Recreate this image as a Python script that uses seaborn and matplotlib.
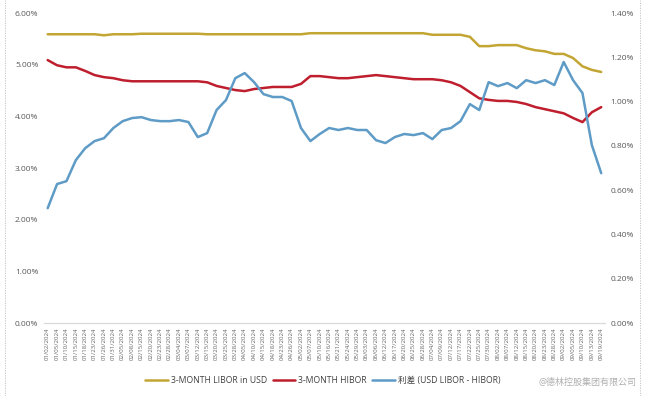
import matplotlib
matplotlib.use("Agg")
import matplotlib.pyplot as plt
import matplotlib.ticker as mticker
import seaborn as sns
import pandas as pd
import numpy as np

# ---- data ----
hk_holidays = ["2024-01-01", "2024-02-12", "2024-02-13", "2024-03-29", "2024-04-01",
               "2024-04-04", "2024-05-01", "2024-05-15", "2024-06-10", "2024-07-01",
               "2024-09-18"]
all_days = pd.date_range("2024-01-02", periods=178,
                         freq=pd.offsets.CustomBusinessDay(holidays=hk_holidays))
dates = all_days[::3]
tick_labels = [d.strftime("%m/%d/%Y") for d in dates]

libor_usd = [5.59, 5.59, 5.59, 5.59, 5.59, 5.59, 5.57, 5.59, 5.59, 5.59,
             5.60, 5.60, 5.60, 5.60, 5.60, 5.60, 5.60, 5.59, 5.59, 5.59,
             5.59, 5.59, 5.59, 5.59, 5.59, 5.59, 5.59, 5.59, 5.61, 5.61,
             5.61, 5.61, 5.61, 5.61, 5.61, 5.61, 5.61, 5.61, 5.61, 5.61,
             5.61, 5.58, 5.58, 5.58, 5.58, 5.54, 5.36, 5.36, 5.38, 5.38,
             5.38, 5.32, 5.28, 5.26, 5.21, 5.21, 5.13, 4.97, 4.90, 4.86]

hibor = [5.09, 4.99, 4.95, 4.95, 4.88, 4.80, 4.76, 4.74, 4.70, 4.68,
         4.68, 4.68, 4.68, 4.68, 4.68, 4.68, 4.68, 4.66, 4.59, 4.55,
         4.51, 4.49, 4.53, 4.55, 4.57, 4.57, 4.57, 4.63, 4.78, 4.78,
         4.76, 4.74, 4.74, 4.76, 4.78, 4.80, 4.78, 4.76, 4.74, 4.72,
         4.72, 4.72, 4.70, 4.66, 4.59, 4.47, 4.35, 4.32, 4.30, 4.30,
         4.28, 4.24, 4.18, 4.14, 4.10, 4.06, 3.97, 3.89, 4.08, 4.18]

spread = [0.519, 0.628, 0.641, 0.736, 0.790, 0.822, 0.835, 0.881, 0.912, 0.926,
          0.930, 0.917, 0.912, 0.912, 0.917, 0.908, 0.840, 0.858, 0.962, 1.007,
          1.106, 1.129, 1.088, 1.034, 1.021, 1.021, 1.003, 0.881, 0.822, 0.854,
          0.881, 0.872, 0.881, 0.872, 0.872, 0.826, 0.813, 0.840, 0.854, 0.849,
          0.858, 0.831, 0.872, 0.881, 0.912, 0.989, 0.962, 1.088, 1.070, 1.084,
          1.061, 1.097, 1.084, 1.097, 1.075, 1.179, 1.097, 1.039, 0.804, 0.677]

names = ["3-MONTH LIBOR in USD", "3-MONTH HIBOR", "利差 (USD LIBOR - HIBOR)"]
colors = ["#C2A532", "#BE1E2D", "#5E9BC6"]

df = pd.DataFrame({"idx": np.arange(len(dates)), "date": tick_labels,
                   "libor": libor_usd, "hibor": hibor, "spread": spread})

# ---- plot ----
sns.set_theme(style="white")
plt.rcParams["font.family"] = ["Open Sans", "Noto Sans CJK SC", "DejaVu Sans"]

fig = plt.figure(figsize=(6.46, 3.96), dpi=100)
fig.patch.set_facecolor("white")
ax = fig.add_axes([0.068, 0.184, 0.8685, 0.783])
ax2 = ax.twinx()

sns.lineplot(data=df, x="idx", y="libor", ax=ax, color=colors[0], linewidth=1.8, label=names[0], legend=False)
sns.lineplot(data=df, x="idx", y="hibor", ax=ax, color=colors[1], linewidth=1.8, label=names[1], legend=False)
sns.lineplot(data=df, x="idx", y="spread", ax=ax2, color=colors[2], linewidth=1.8, label=names[2], legend=False)

ax.set_ylim(0, 6)
ax2.set_ylim(0, 1.4)
ax.set_xlim(-0.4, len(dates) - 0.6)
ax.yaxis.set_major_locator(mticker.MultipleLocator(1))
ax2.yaxis.set_major_locator(mticker.MultipleLocator(0.2))
fmt = mticker.FuncFormatter(lambda v, p: f"{v:.2f}%")
ax.yaxis.set_major_formatter(fmt)
ax2.yaxis.set_major_formatter(fmt)

ax.set_xticks(df["idx"])
ax.set_xticklabels(tick_labels, rotation=90, fontsize=4.4, color="#666666", va="top", ha="center")
ax.tick_params(axis="x", length=0, pad=3)
ax.tick_params(axis="y", length=0, labelsize=6, colors="#595959", pad=4)
ax2.tick_params(axis="y", length=0, labelsize=6, colors="#595959", pad=4)
ax.set_xlabel("")
ax.set_ylabel("")
ax2.set_ylabel("")

for a in (ax, ax2):
    for s in ["top", "right", "left"]:
        a.spines[s].set_visible(False)
    a.spines["bottom"].set_color("#D9D9D9")
    a.spines["bottom"].set_linewidth(0.8)
    a.grid(False)
ax.set_facecolor("none")

handles = ax.get_lines()[:2] + ax2.get_lines()[:1]
fig.legend(handles, names, loc="center", bbox_to_anchor=(0.5, 0.04), ncol=3,
           frameon=False, fontsize=6.2, handlelength=2.6, columnspacing=0.6,
           handletextpad=0.4, labelcolor="#404040")

# decorative dotted frame lines and watermark
fig.add_artist(plt.Line2D([5/646, 5/646], [0, 1], transform=fig.transFigure,
                          color="#BFBFBF", lw=0.6, ls=(0, (1.5, 1.5))))
fig.add_artist(plt.Line2D([640/646, 640/646], [0, 1], transform=fig.transFigure,
                          color="#BFBFBF", lw=0.6, ls=(0, (1.5, 1.5))))
fig.text(0.985, 0.035, "@德林控股集团有限公司", ha="right", va="center",
         fontsize=6.5, color="#B0B0B0")

fig.savefig("out.png", dpi=100)
